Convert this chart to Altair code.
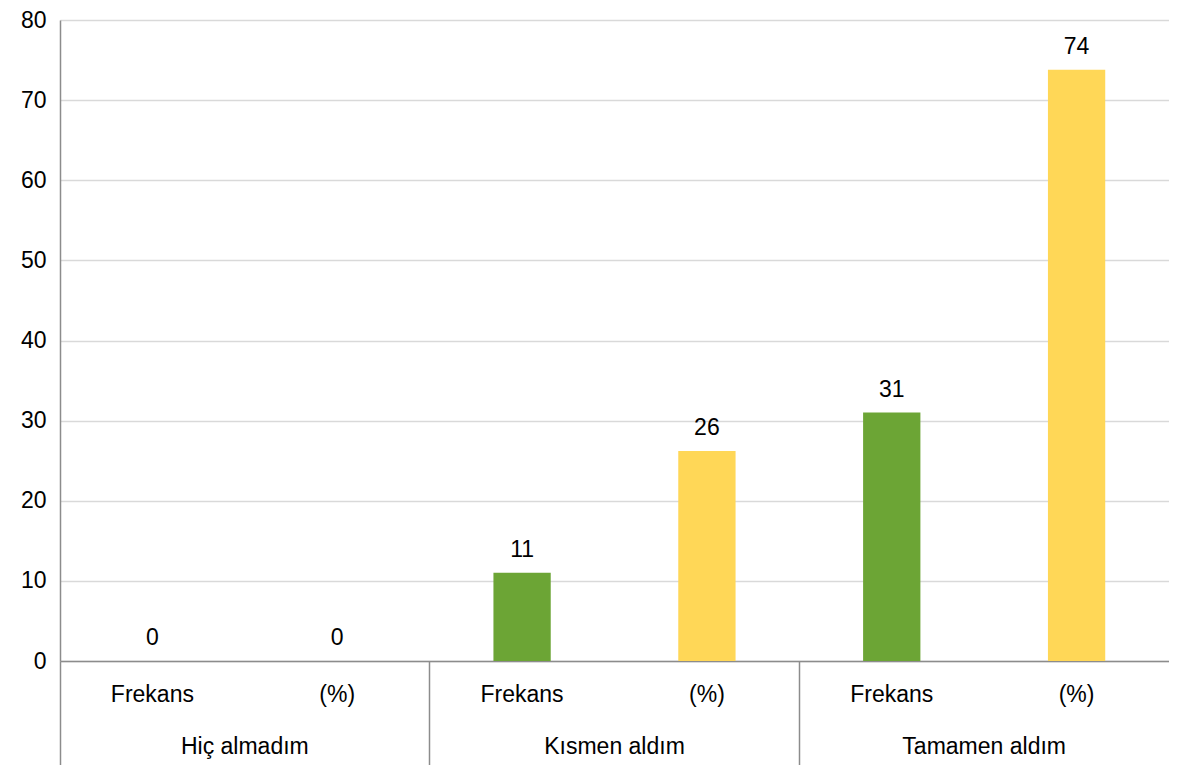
import altair as alt
import pandas as pd

groups = ["Hiç almadım", "Hiç almadım", "Kısmen aldım", "Kısmen aldım", "Tamamen aldım", "Tamamen aldım"]
subs = ["Frekans", "(%)", "Frekans", "(%)", "Frekans", "(%)"]
values = [0, 0, 11, 26.2, 31, 73.8]
group_order = ["Hiç almadım", "Kısmen aldım", "Tamamen aldım"]
sub_order = ["Frekans", "(%)"]
colors = ["#6CA535", "#FFD757"]

df = pd.DataFrame({"group": groups, "sub": subs, "value": values})
gdf = pd.DataFrame({"group": group_order})

FONT = "Liberation Sans"
FS = 23
W, H = 1109, 641

x_enc = alt.X("group:N", sort=group_order,
              scale=alt.Scale(paddingInner=0, paddingOuter=0),
              axis=alt.Axis(title=None, labels=False, ticks=True, bandPosition=0,
                            tickSize=104, tickColor="#8C8C8C", tickWidth=1.5,
                            domainColor="#8C8C8C", domainWidth=1.5, grid=False))
xo_enc = alt.XOffset("sub:N", sort=sub_order,
                     scale=alt.Scale(paddingInner=0.69, paddingOuter=0.345))

bars = alt.Chart(df).mark_bar().encode(
    x=x_enc,
    xOffset=xo_enc,
    y=alt.Y("value:Q", scale=alt.Scale(domain=[0, 80]),
            axis=alt.Axis(title=None, values=list(range(0, 90, 10)), ticks=False,
                          labelFontSize=FS, labelFont=FONT, labelColor="#000000",
                          labelPadding=14, domainColor="#8C8C8C", domainWidth=1.5,
                          gridColor="#D9D9D9", gridWidth=1.5)),
    color=alt.Color("sub:N", sort=sub_order, scale=alt.Scale(domain=sub_order, range=colors), legend=None),
)

vlabels = alt.Chart(df).mark_text(font=FONT, fontSize=FS, color="#000000", baseline="alphabetic", dy=-16).encode(
    x=alt.X("group:N", sort=group_order),
    xOffset=alt.XOffset("sub:N", sort=sub_order),
    y="value:Q",
    text=alt.Text("value:Q", format=".0f"),
)

sublabels = alt.Chart(df).mark_text(font=FONT, fontSize=FS, color="#000000", baseline="middle").encode(
    x=alt.X("group:N", sort=group_order),
    xOffset=alt.XOffset("sub:N", sort=sub_order),
    y=alt.value(H + 34),
    text="sub:N",
)

grouplabels = alt.Chart(gdf).mark_text(font=FONT, fontSize=FS, color="#000000", baseline="middle").encode(
    x=alt.X("group:N", sort=group_order),
    y=alt.value(H + 86),
    text="group:N",
)

chart = alt.layer(bars, vlabels, sublabels, grouplabels).properties(
    width=W, height=H,
    autosize=alt.AutoSizeParams(type="none"),
    padding={"left": 52, "top": 12, "right": 0, "bottom": 104},
).configure_view(stroke=None)

chart.save("out.html", embed_options={"renderer": "svg", "actions": False})
